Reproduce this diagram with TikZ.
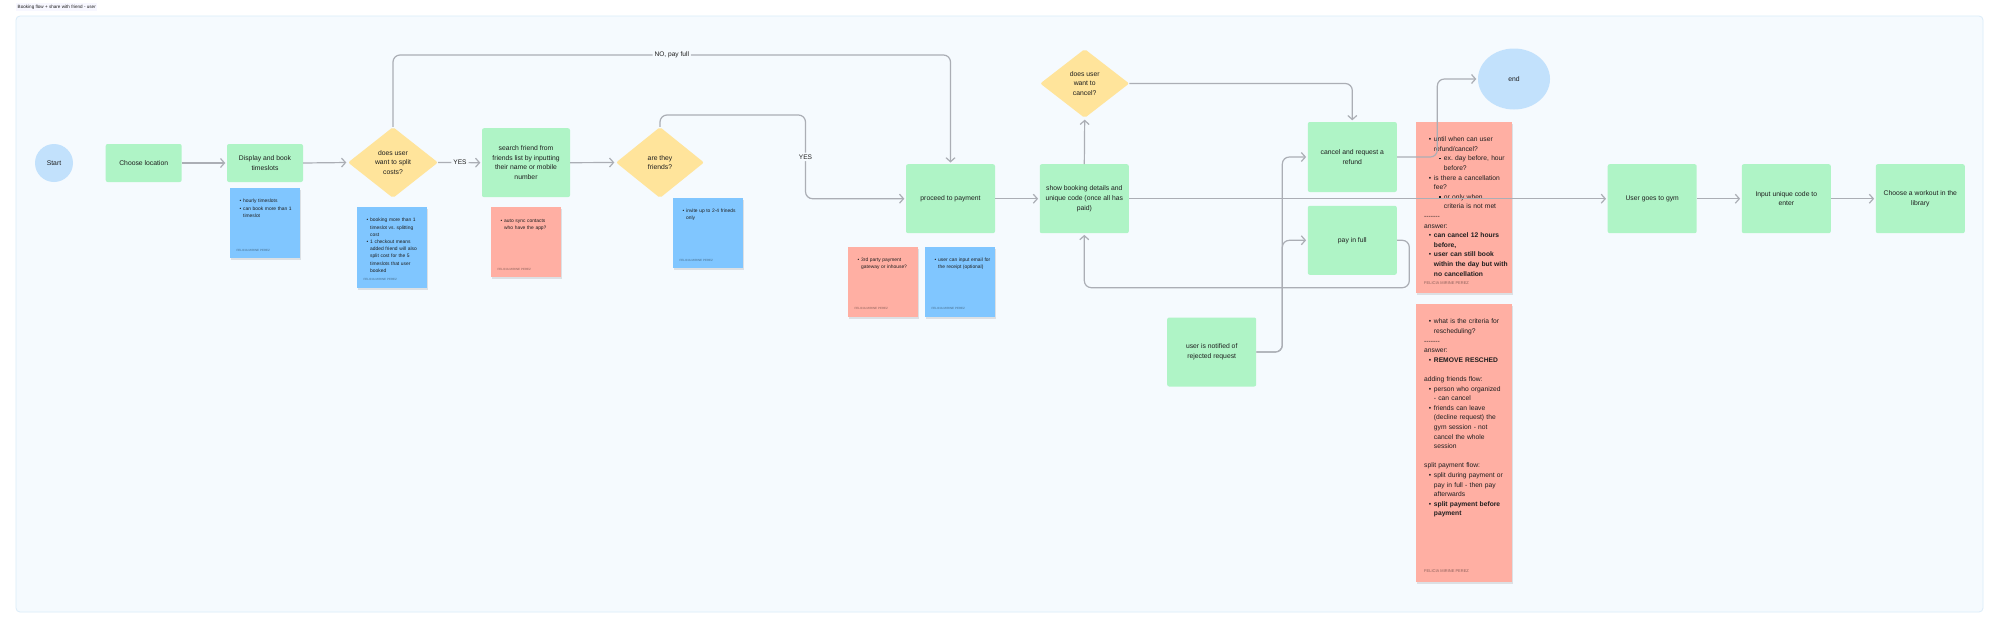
\documentclass[tikz,border=0pt]{standalone}
\usepackage{fontspec}
\setmainfont{Liberation Sans}
\usetikzlibrary{shapes.geometric,arrows.meta,calc}

\definecolor{frameBg}{HTML}{F5FAFE}
\definecolor{frameBd}{HTML}{DAECF9}
\definecolor{procG}{HTML}{AFF4C6}
\definecolor{decY}{HTML}{FFE49B}
\definecolor{termB}{HTML}{C2E1FC}
\definecolor{noteB}{HTML}{80C6FF}
\definecolor{noteR}{HTML}{FFAFA3}
\definecolor{connC}{HTML}{ABAEB5}
\definecolor{ink}{HTML}{1E1E1E}

\newcommand\nbA[1]{\par\hangindent=1.45em\hangafter=0\noindent\llap{\textbullet\hspace{0.4em}}#1\par}
\newcommand\nbB[1]{\par\hangindent=2.95em\hangafter=0\noindent\llap{\rule[0.2em]{0.28em}{0.28em}\hspace{0.45em}}#1\par}
\newcommand\nbP[1]{\par\noindent #1\par}
\newcommand\dashes{-{}-{}-{}-{}-{}-{}-}

\newcommand\mknote[6]{%
  \fill[black,opacity=0.10] (#2+0.6,#3+1.8) rectangle ++(#4,#5);
  \node[notebody, fill=#6, minimum width=#4pt, minimum height=#5pt] (#1) at (#2,#3) {};}

\begin{document}
\begin{tikzpicture}[x=1pt,y=-1pt,
  font=\fontsize{6.8}{9.6}\selectfont,
  box/.style={rectangle, rounded corners=2pt, fill=procG, inner sep=0pt, align=center, text=ink},
  dec/.style={diamond, rounded corners=2pt, fill=decY, inner sep=0pt, align=center, text=ink},
  term/.style={ellipse, fill=termB, inner sep=0pt, text=ink},
  conn/.style={draw=connC, line width=1.2pt, rounded corners=7pt,
    -{Straight Barb[length=4pt,width=9pt,line width=1.2pt]}, shorten >=1.5pt},
  lbl/.style={fill=frameBg, inner sep=2pt, text=ink, font=\fontsize{6.6}{8}\selectfont},
  notebody/.style={rectangle, anchor=north west, inner sep=0pt},
  ntxtS/.style={inner sep=0pt, anchor=north west, text width=62pt, align=left, font=\fontsize{4.9}{7.2}\selectfont, text=ink},
  ntxtL/.style={inner sep=0pt, anchor=north west, text width=86pt, align=left, font=\fontsize{6.7}{9.6}\selectfont, text=ink},
  authS/.style={inner sep=0pt, anchor=west, font=\fontsize{3}{3.5}\selectfont},
  authL/.style={inner sep=0pt, anchor=west, font=\fontsize{4}{4.5}\selectfont}
]
\useasboundingbox (0,0) rectangle (2000,629);
\fill[white] (0,0) rectangle (2000,629);

% title
\node[anchor=west, inner sep=1.5pt, fill=blue!3, text=ink, font=\fontsize{4.6}{5}\selectfont] (title) at (16,7) {Booking flow + share with friend - user};

% frame
\draw[frameBd, fill=frameBg, line width=0.8pt, rounded corners=4pt] (16,16) rectangle (1983,612);

% main nodes
\node[term, minimum width=38pt, minimum height=38pt] (start) at (54,163) {Start};
\node[box, minimum width=76pt, minimum height=38pt] (choose) at (143.7,163) {Choose location};
\node[box, minimum width=76pt, minimum height=38pt] (display) at (265,163) {Display and book\\timeslots};
\node[dec, minimum width=90pt, minimum height=71pt] (split) at (393,162.5) {does user\\want to split\\costs?};
\node[box, minimum width=88pt, minimum height=69pt] (search) at (526,162.7) {search friend from\\friends list by inputting\\their name or mobile\\number};
\node[dec, minimum width=88pt, minimum height=71pt] (friends) at (660,162.5) {are they\\friends?};
\node[box, minimum width=89pt, minimum height=69pt] (proceed) at (950.5,198.7) {proceed to payment};
\node[box, minimum width=89pt, minimum height=69pt] (show) at (1084.3,198.7) {show booking details and\\unique code (once all has\\paid)};
\node[dec, minimum width=89pt, minimum height=69pt] (cancelq) at (1084.7,83.5) {does user\\want to\\cancel?};
\node[box, minimum width=89pt, minimum height=70pt] (refund) at (1352.3,157) {cancel and request a\\refund};
\node[box, minimum width=89pt, minimum height=69pt] (payfull) at (1352.3,240.3) {pay in full};
\node[box, minimum width=89pt, minimum height=69pt] (rejected) at (1211.7,352) {user is notified of\\rejected request};
\node[term, minimum width=72pt, minimum height=61pt] (endc) at (1514,79) {end};
\node[box, minimum width=89pt, minimum height=69pt] (gym) at (1652.2,198.7) {User goes to gym};
\node[box, minimum width=89pt, minimum height=69pt] (code) at (1786.3,198.7) {Input unique code to\\enter};
\node[box, minimum width=89pt, minimum height=69pt] (workout) at (1920.3,198.7) {Choose a workout in the\\library};

% sticky notes
\mknote{n1}{230}{188}{70}{70}{noteB}
\node[ntxtS] (n1t) at ($(n1.north west)+(5.9,7.5)$) {\nbA{hourly timeslots}\nbA{can book more than 1\newline timeslot}};
\node[authS, text=black!45!noteB] (n1a) at ($(n1.south west)+(6.3,-8)$) {FELICIA MIRINE PEREZ};

\mknote{n2}{357}{207}{70}{81}{noteB}
\node[ntxtS] (n2t) at ($(n2.north west)+(5.9,7.5)$) {\nbA{booking more than 1\newline timeslot vs.\ splitting\newline cost}\nbA{1 checkout means\newline added friend will also\newline split cost for the 5\newline timeslots that user\newline booked}};
\node[authS, text=black!45!noteB] (n2a) at ($(n2.south west)+(6.3,-8.5)$) {FELICIA MIRINE PEREZ};

\mknote{n3}{491}{207}{70}{70}{noteR}
\node[ntxtS] (n3t) at ($(n3.north west)+(5.9,7.8)$) {\nbA{auto sync contacts\newline who have the app?}};
\node[authS, text=black!45!noteR] (n3a) at ($(n3.south west)+(6.3,-8)$) {FELICIA MIRINE PEREZ};

\mknote{n4}{673}{198}{70}{70}{noteB}
\node[ntxtS] (n4t) at ($(n4.north west)+(5.9,6.7)$) {\nbA{invite up to 2-4 frineds\newline only}};
\node[authS, text=black!45!noteB] (n4a) at ($(n4.south west)+(6.3,-8)$) {FELICIA MIRINE PEREZ};

\mknote{n5}{848}{247}{70}{70}{noteR}
\node[ntxtS] (n5t) at ($(n5.north west)+(5.9,7)$) {\nbA{3rd party payment\newline gateway or inhouse?}};
\node[authS, text=black!45!noteR] (n5a) at ($(n5.south west)+(6.3,-8.5)$) {FELICIA MIRINE PEREZ};

\mknote{n6}{925}{247}{70}{70}{noteB}
\node[ntxtS] (n6t) at ($(n6.north west)+(5.9,7)$) {\nbA{user can input email for\newline the receipt (optional)}};
\node[authS, text=black!45!noteB] (n6a) at ($(n6.south west)+(6.3,-8.5)$) {FELICIA MIRINE PEREZ};

\mknote{n7}{1416}{122}{96}{171}{noteR}
\node[ntxtL] (n7t) at ($(n7.north west)+(8,9.8)$) {%
\nbA{until when can user\newline refund/cancel?}%
\nbB{ex.\ day before, hour\newline before?}%
\nbA{is there a cancellation\newline fee?}%
\nbB{or only when\newline criteria is not met}%
\nbP{\dashes}%
\nbP{answer:}%
\nbA{\textbf{can cancel 12 hours}\newline\textbf{before,}}%
\nbA{\textbf{user can still book}\newline\textbf{within the day but with}\newline\textbf{no cancellation}}};
\node[authL, text=black!45!noteR] (n7a) at ($(n7.south west)+(8,-10.5)$) {FELICIA MIRINE PEREZ};

\mknote{n8}{1416}{304}{96}{278}{noteR}
\node[ntxtL] (n8t) at ($(n8.north west)+(8,10)$) {%
\nbA{what is the criteria for\newline rescheduling?}%
\nbP{\dashes}%
\nbP{answer:}%
\nbA{\textbf{REMOVE RESCHED}}%
\nbP{\mbox{}}%
\nbP{adding friends flow:}%
\nbA{person who organized\newline - can cancel}%
\nbA{friends can leave\newline (decline request) the\newline gym session - not\newline cancel the whole\newline session}%
\nbP{\mbox{}}%
\nbP{split payment flow:}%
\nbA{split during payment or\newline pay in full - then pay\newline afterwards}%
\nbA{\textbf{split payment before}\newline\textbf{payment}}};
\node[authL, text=black!45!noteR] (n8a) at ($(n8.south west)+(8,-11)$) {FELICIA MIRINE PEREZ};

% waypoints
\coordinate (nk) at (950.5,55);
\coordinate (yk) at (805.5,115);
\coordinate (rk) at (1437.3,0);
\coordinate (pk) at (1409.3,287.7);

% connectors
\draw[conn] (choose.east) -- (display.west);
\draw[conn] (display.east) -- (split.west);
\draw[conn] (split.east) -- node[lbl] {YES} (search.west);
\draw[conn] (split.north) |- node[lbl,pos=0.75] {NO, pay full} (nk) -- (proceed.north);
\draw[conn] (search.east) -- (friends.west);
\draw[conn] (friends.north) |- (yk) |- node[lbl,pos=0.25] {YES} (proceed.west);
\draw[conn] (proceed.east) -- (show.west);
\draw[conn] (show.north) -- (cancelq.south);
\draw[conn] (cancelq.east) -| (refund.north);
\draw[conn] (show.east) -- (gym.west);
\draw[conn] (refund.east) -| (rk |- endc.west) -- (endc.west);
\draw[conn] (payfull.east) -| (pk) -| (show.south);
\draw[conn] (rejected.east) -| ([xshift=-25.3pt]refund.west) -- (refund.west);
\draw[conn] (rejected.east) -| ([xshift=-25.3pt]payfull.west) -- (payfull.west);
\draw[conn] (gym.east) -- (code.west);
\draw[conn] (code.east) -- (workout.west);
\end{tikzpicture}
\end{document}
